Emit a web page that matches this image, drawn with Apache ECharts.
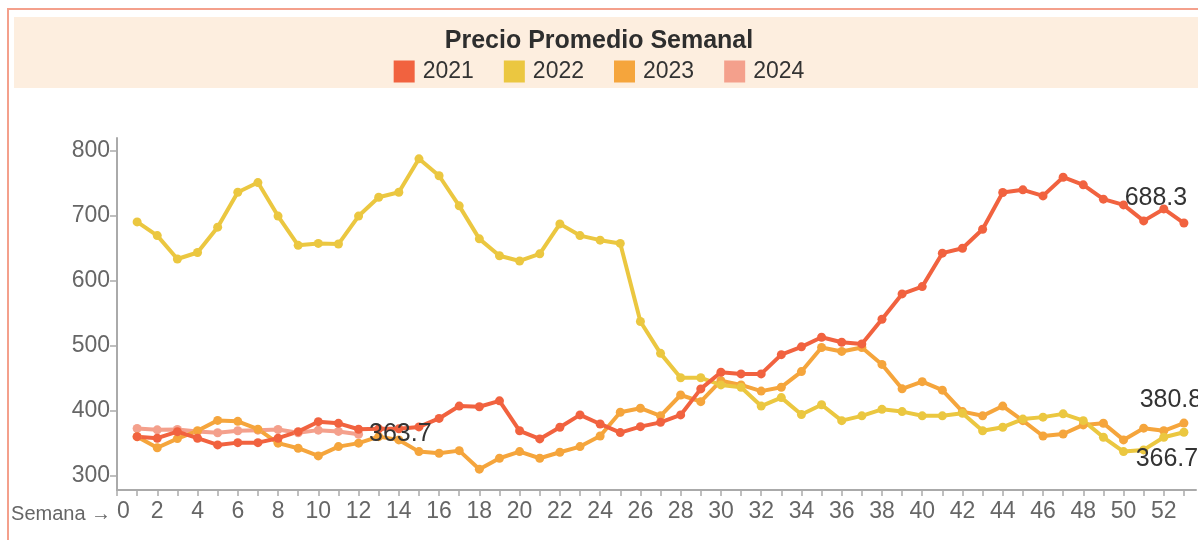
<!DOCTYPE html>
<html>
<head>
<meta charset="utf-8">
<title>Precio Promedio Semanal</title>
<script src="https://cdn.jsdelivr.net/npm/echarts@6/dist/echarts.min.js"></script>
<style>
html, body { margin: 0; padding: 0; background: #fff; }
#grafico { width: 1198px; height: 540px; }
</style>
</head>
<body>
<div id="grafico"></div>
<script>
// semanas del año (eje x)
var semanas = [1,2,3,4,5,6,7,8,9,10,11,12,13,14,15,16,17,18,19,20,21,22,23,24,25,26,
	27,28,29,30,31,32,33,34,35,36,37,38,39,40,41,42,43,44,45,46,47,48,49,50,51,52,53];

// precios promedio por año
var precio2021 = [360,357.6,367.7,357.6,347.3,350.8,350.8,357.6,367.7,383,380.5,371.4,372,372,375,388,
	407,406,415,369,356.5,374.5,393.4,379.5,366.2,375.4,382,393.4,433.4,459,456.4,456.4,486,498,
	512.8,505,502.5,540.5,579.4,590.6,642,649.6,678.8,735.2,739.3,730,758.7,747,725,716.2,691.6,710,688.3];
var precio2022 = [690,669,633,643,682,735.7,750.5,699,654,657,656,699,728,735.7,787,761,
	714.7,664,638,630,641,687,669,662,657,537,488,450.5,450.5,439.5,436,407,420,394,
	409,384.6,392,402,398.5,392,392,396,369,374.5,387,390,395,384.6,359,337,339.6,359,366.7];
var precio2023 = [360,343,357,369,385,383.5,371.4,350,342.2,330.4,344.7,350,360,355,337,334.5,
	338.5,310,326.8,337,326.8,336,344.7,361,397.5,403.7,392,424,413.8,446,439.5,430,436,460,
	497,491,497,471,433.5,444.5,431.5,398.5,392,407,384.6,361,364,378,380.6,355,373,369,380.8];
var precio2024 = [372.5,370.5,371,368,366,369,370,371,366,370,368,363.7];

// marcas de los ejes
var marcasY = [300,400,500,600,700,800];
var etiquetasX = [0,2,4,6,8,10,12,14,16,18,20,22,24,26,28,30,32,34,36,38,40,42,44,46,48,50,52];
var marcasX = [0,1,2,3,4,5,6,7,8,9,10,11,12,13,14,15,16,17,18,19,20,21,22,23,24,25,26,
	27,28,29,30,31,32,33,34,35,36,37,38,39,40,41,42,43,44,45,46,47,48,49,50,51,52,53];

var fuente = '"Liberation Sans", Arial, sans-serif';

//arma una serie de linea, con etiqueta en el ultimo punto
var serie = function(nombre, valores, color, etiqueta){
	var datos = valores.map(function(v, i){ return [semanas[i], v]; });
	var u = datos.length - 1;
	datos[u] = {
		value: datos[u],
		label: Object.assign({
			show: true, color: '#333', fontSize: 25, fontFamily: fuente,
			formatter: function(p){ return p.value[1]; }
		}, etiqueta)
	};
	return {
		name: nombre,
		type: 'line',
		data: datos,
		symbol: 'circle',
		symbolSize: 9,
		showSymbol: true,
		itemStyle: { color: color },
		lineStyle: { color: color, width: 4 },
		emphasis: { disabled: true }
	};
};

var grafico = echarts.init(document.getElementById('grafico'));

var opciones = {
	animation: false,
	backgroundColor: '#fff',
	graphic: [
		{ type: 'rect', silent: true, z: -10,
			shape: { x: 8, y: 9, width: 1300, height: 600 },
			style: { fill: 'none', stroke: '#F4A08C', lineWidth: 2 } },
		{ type: 'rect', silent: true, z: -9,
			shape: { x: 14, y: 17, width: 1200, height: 71 },
			style: { fill: '#FDEEDF' } }
	],
	title: {
		text: 'Precio Promedio Semanal',
		left: 'center',
		top: 24,
		textStyle: { fontFamily: fuente, fontSize: 25, fontWeight: 'bold', color: '#2e2e2e' }
	},
	legend: {
		data: ['2021', '2022', '2023', '2024'],
		left: 'center',
		top: 55,
		icon: 'rect',
		itemWidth: 21,
		itemHeight: 22,
		itemGap: 30,
		textStyle: { fontFamily: fuente, fontSize: 23, color: '#333', padding: [0, 0, 0, 3] }
	},
	grid: { left: 117, right: 2, top: 138, bottom: 50 },
	xAxis: {
		type: 'value',
		min: 0,
		max: 53.6,
		name: 'Semana →',
		nameLocation: 'start',
		nameGap: 1,
		nameTextStyle: { fontFamily: fuente, fontSize: 20, color: '#666', verticalAlign: 'top', padding: [14, 0, 0, 0] },
		axisLine: { show: true, lineStyle: { color: '#aaa', width: 2 } },
		axisTick: { show: true, customValues: marcasX, length: 6, lineStyle: { color: '#aaa', width: 1.5 } },
		axisLabel: { customValues: etiquetasX, fontFamily: fuente, fontSize: 23, color: '#666', margin: 10, alignMinLabel: 'left' },
		splitLine: { show: false }
	},
	yAxis: {
		type: 'value',
		min: 278,
		max: 819,
		axisLine: { show: true, lineStyle: { color: '#aaa', width: 2 } },
		axisTick: { show: true, customValues: marcasY, length: 7, lineStyle: { color: '#aaa', width: 1.5 } },
		axisLabel: { customValues: marcasY, fontFamily: fuente, fontSize: 23, color: '#666', margin: 7 },
		splitLine: { show: false }
	},
	series: [
		serie('2024', precio2024, '#F4A08C', { position: 'right', distance: 6 }),
		serie('2023', precio2023, '#F5A53C', { position: 'top', distance: 6, offset: [-13, 0] }),
		serie('2022', precio2022, '#EBC740', { position: 'bottom', distance: 10, offset: [-17, 0] }),
		serie('2021', precio2021, '#F1623F', { position: 'top', distance: 8, offset: [-28, 0] })
	]
};

grafico.setOption(opciones);
</script>
</body>
</html>
